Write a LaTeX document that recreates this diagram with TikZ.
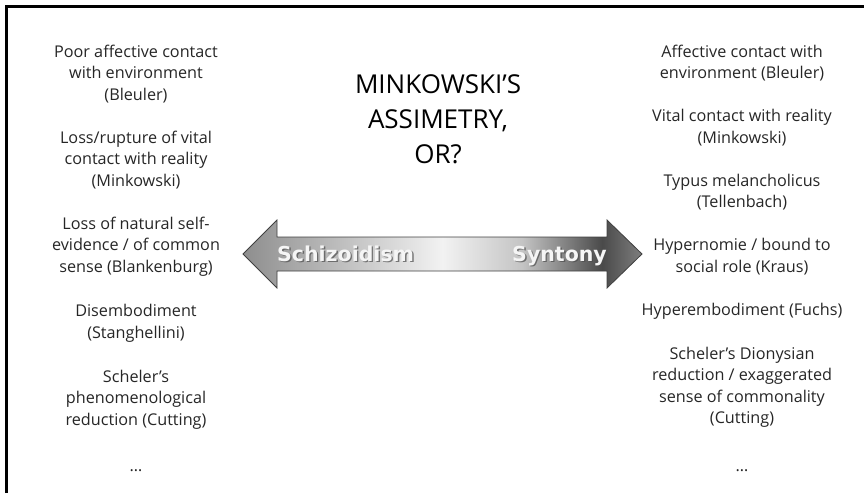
\documentclass[tikz,border=0pt]{standalone}
\usepackage{fontspec}
\setmainfont{Open Sans}
\newfontfamily\polefont{DejaVu Sans}
\usepackage{tikz}
\usetikzlibrary{positioning}

\definecolor{ink}{HTML}{262626}
\definecolor{barL}{HTML}{8E8E8E}
\definecolor{barLm}{HTML}{BDBDBD}
\definecolor{barM}{HTML}{F2F2F2}
\definecolor{barRm}{HTML}{C4C4C4}
\definecolor{barR}{HTML}{4A4A4A}
\definecolor{barTip}{HTML}{7E7E7E}
\pgfdeclarehorizontalshading{greybar}{100bp}{color(0bp)=(barL); color(25bp)=(barL); color(37bp)=(barLm); color(50bp)=(barM); color(60bp)=(barRm); color(70bp)=(barR); color(75bp)=(barTip); color(100bp)=(barTip)}

\begin{document}
\begin{tikzpicture}[x=1pt, y=-1pt, node distance=27.7pt,
    item/.style={align=center, inner sep=0pt, text=ink, font=\fontsize{16.2}{21.5}\selectfont},
    pole/.style={inner sep=0pt, font=\polefont\bfseries\fontsize{20.5}{24}\selectfont}]
    \useasboundingbox (0,0) rectangle (864,493);
    \draw[line width=2.5pt] (6.3,493) -- (6.3,6.3) -- (864,6.3);

    % title
    \node [align=center, inner sep=0pt, font=\fontsize{26}{35}\selectfont, anchor=north] (title) at (438,74.5)
        {MINKOWSKI’S\\ASSIMETRY,\\OR?};

    % the axis
    \coordinate (tipL) at (243,254);
    \coordinate (tipR) at (642,254);
    \shade[shading=greybar, draw=black!75, line width=0.8pt, line join=miter]
        (tipL) -- ++(34,-34) -- ++(0,17) -- ++(330,0) -- ++(0,-17) -- (tipR)
        -- ++(-35,34) -- ++(0,-17) -- ++(-330,0) -- ++(0,17) -- cycle;
    \node [pole, text=black!70, opacity=0.7, anchor=base west] (schizS) at (278.3,262.8) {Schizoidism};
    \node [pole, text=white!96!black, anchor=base west] (schiz) at (277,261.5) {Schizoidism};
    \node [pole, text=black!70, opacity=0.7, anchor=base east] (syntS) at (608.3,262.8) {Syntony};
    \node [pole, text=white!96!black, anchor=base east] (synt) at (607,261.5) {Syntony};

    % schizoid side
    \node [item, anchor=north] (l1) at (136,44.6) {Poor affective contact\\with environment\\(Bleuler)};
    \node [item, below=of l1] (l2) {Loss/rupture of vital\\contact with reality\\(Minkowski)};
    \node [item, below=of l2] (l3) {Loss of natural self-\\evidence / of common\\sense (Blankenburg)};
    \node [item, below=of l3] (l4) {Disembodiment\\(Stanghellini)};
    \node [item, below=of l4] (l5) {Scheler’s\\phenomenological\\reduction (Cutting)};
    \node [item, anchor=base] (l6) at (136,471) {…};

    % syntonic side
    \node [item, anchor=north] (r1) at (742,44.6) {Affective contact with\\environment (Bleuler)};
    \node [item, below=of r1] (r2) {Vital contact with reality\\(Minkowski)};
    \node [item, below=of r2] (r3) {Typus melancholicus\\(Tellenbach)};
    \node [item, below=of r3] (r4) {Hypernomie / bound to\\social role (Kraus)};
    \node [item, below=of r4] (r5) {Hyperembodiment (Fuchs)};
    \node [item, below=of r5] (r6) {Scheler’s Dionysian\\reduction / exaggerated\\sense of commonality\\(Cutting)};
    \node [item, anchor=base] (r7) at (742,471) {…};
\end{tikzpicture}
\end{document}
